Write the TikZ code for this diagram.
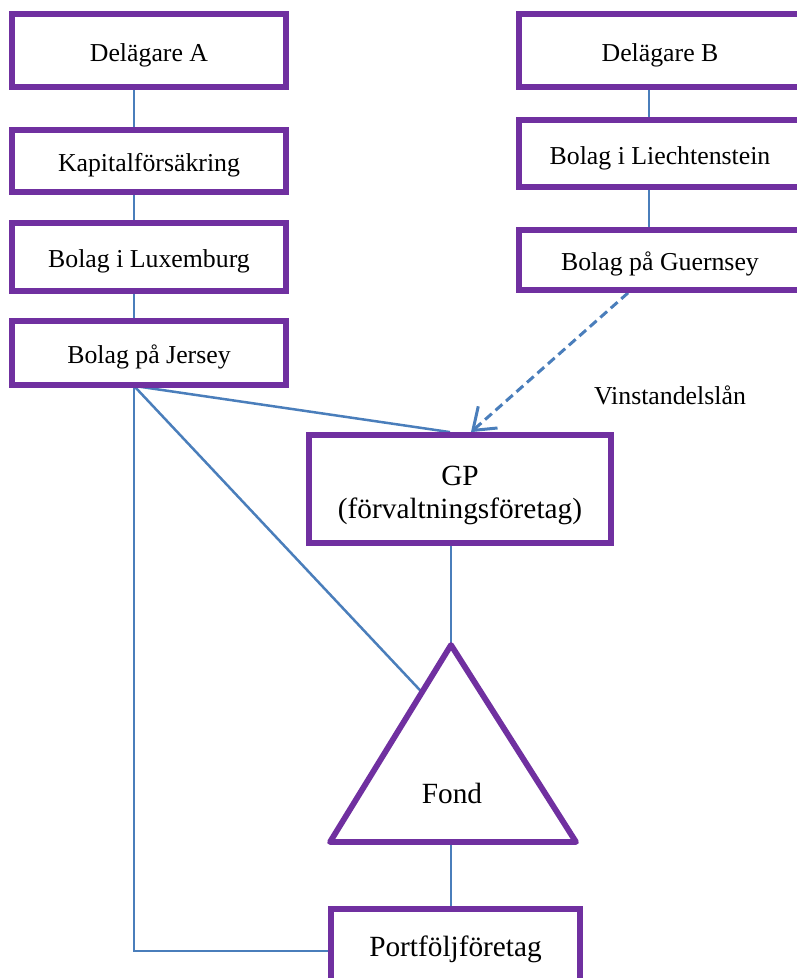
\documentclass[tikz,border=0pt]{standalone}
\usepackage{fontspec}
\setmainfont{Liberation Serif}
\usetikzlibrary{calc,arrows.meta,backgrounds}
\definecolor{boxpurple}{HTML}{7030A0}
\definecolor{linkblue}{HTML}{4A7EBB}
\begin{document}
\begin{tikzpicture}[x=1pt,y=-1pt,
  frame/.style={draw=boxpurple, line width=5.8pt, fill=white, rectangle, inner sep=0pt,
              align=center},
  box/.style={frame, font=\fontsize{25.8}{30}\selectfont, text height=21pt, text depth=0pt},
  bigbox/.style={frame, font=\fontsize{29.3}{33}\selectfont},
  link/.style={draw=linkblue, line width=2.5pt},
  loan/.style={draw=linkblue, line width=3pt, dash pattern=on 9pt off 5pt,
               -{Straight Barb[length=20pt,width=29pt,line width=3pt]}},
  lbl/.style={font=\fontsize{25.8}{30}\selectfont, inner sep=0pt}]
\useasboundingbox (0,0) rectangle (797,978);
\clip (0,0) rectangle (797,978);

% left column
\node[box, minimum width=274pt, minimum height=73pt] (dA)  at (149,50.5) {Delägare A};
\node[box, minimum width=274pt, minimum height=62pt] (kap) at (149,161) {Kapitalförsäkring};
\node[box, minimum width=274pt, minimum height=68pt] (lux) at (149,257) {Bolag i Luxemburg};
\node[box, minimum width=274pt, minimum height=64pt] (jer) at (149,353) {Bolag på Jersey};

% right column
\node[box, minimum width=282pt, minimum height=73pt] (dB)  at (660,50.5) {Delägare B};
\node[box, minimum width=282pt, minimum height=67pt] (lie) at (660,153.5) {Bolag i Liechtenstein};
\node[box, minimum width=282pt, minimum height=60pt] (gue) at (660,260) {Bolag på Guernsey};

% GP
\node[bigbox, minimum width=301.5pt, minimum height=108pt] (gp) at (460,489) {};
\node[lbl, align=center, font=\fontsize{29.3}{33}\selectfont] (gptext) at (460,495) {GP\\(förvaltningsföretag)};

% Fund triangle
\coordinate (fa) at (451,645);
\coordinate (fl) at (330,842);
\coordinate (fr) at (576,842);
\draw[draw=boxpurple, line width=5.8pt, line join=round, fill=white] (fa) -- (fl) -- (fr) -- cycle;
\node[lbl, font=\fontsize{29.3}{33}\selectfont] (fond) at (452,793) {Fond};

% Portfolio company
\node[bigbox, minimum width=249pt, minimum height=80pt] (port) at (455.5,949) {Portföljföretag};

% label
\node[lbl] (vl) at (670,395) {Vinstandelslån};

\begin{scope}[on background layer]
  \draw[link] ($(dA.south)+(-15,0)$) -- ($(kap.north)+(-15,0)$);
  \draw[link] ($(kap.south)+(-15,0)$) -- ($(lux.north)+(-15,0)$);
  \draw[link] ($(lux.south)+(-15,0)$) -- ($(jer.north)+(-15,0)$);
  \draw[link] ($(dB.south)+(-11,0)$) -- ($(lie.north)+(-11,0)$);
  \draw[link] ($(lie.south)+(-11,0)$) -- ($(gue.north)+(-11,0)$);
  \coordinate (jb) at ($(jer.south)+(-15,-2)$);
  \draw[link] (jb) -- ($(gp.north)+(-10,0)$);
  \draw[link] (jb) -- ($(fl)!0.76!(fa)$);
  \draw[link] (jb) |- ($(port.west)+(0,2)$);
  \draw[link] ($(gp.south)+(-9,0)$) -- (fa);
  \draw[link] (fa |- fl) -- (fa |- port.north);
  \draw[loan] ($(gue.south)+(-32,0)$) -- ($(gp.north)+(11,0)$);
\end{scope}
\end{tikzpicture}
\end{document}
